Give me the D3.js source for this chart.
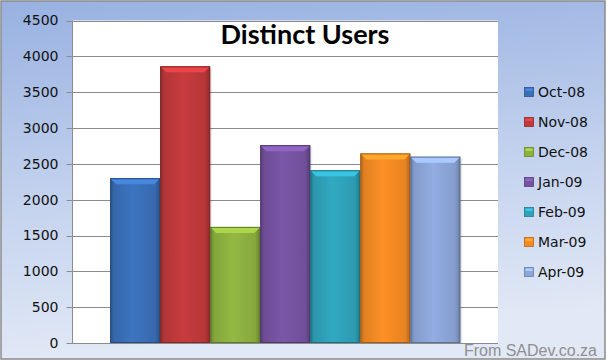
<!DOCTYPE html>
<html><head><meta charset="utf-8">
<script src="https://cdn.jsdelivr.net/npm/d3@7"></script>
<style>html,body{margin:0;padding:0;background:#fff;}svg{display:block;}</style>
</head><body>
<script>
const months = ["Oct-08","Nov-08","Dec-08","Jan-09","Feb-09","Mar-09","Apr-09"];
const users = [2300, 3860, 1620, 2760, 2410, 2645, 2600];
const colors = ["#3a6fb8","#c0393b","#8db13f","#7653a1","#2fa2ba","#f38a24","#8ca6d9"];
const yTicks = [0,500,1000,1500,2000,2500,3000,3500,4000,4500];
const titleText = "Distinct Users";
const credit = "From SADev.co.za";

const W = 607, H = 361;
const plot = {left: 72.5, right: 498, top: 20.5, bottom: 343};

const svg = d3.select("body").append("svg").attr("width", W).attr("height", H);
const defs = svg.append("defs");

const bg = defs.append("linearGradient").attr("id","bg").attr("x1",0).attr("y1",0).attr("x2",0.15).attr("y2",1);
bg.append("stop").attr("offset",0).attr("stop-color","#98b1e1");
bg.append("stop").attr("offset",0.55).attr("stop-color","#c3d2ee");
bg.append("stop").attr("offset",1).attr("stop-color","#e2e9f6");

svg.append("rect").attr("x",1).attr("y",1).attr("width",W-3).attr("height",H-3)
  .attr("fill","url(#bg)").attr("stroke","#8a8a8a").attr("stroke-width",1.5);

svg.append("rect").attr("x",plot.left).attr("y",plot.top)
  .attr("width",plot.right-plot.left).attr("height",plot.bottom-plot.top).attr("fill","#fff");

const y = d3.scaleLinear().domain([0,4500]).range([plot.bottom, plot.top]);
const outer = d3.scaleBand().domain(["all"]).range([plot.left, plot.right]).paddingInner(0.097).paddingOuter(0.097);
const x = d3.scaleBand().domain(months).range([outer("all"), outer("all")+outer.bandwidth()]).padding(0);

// gridlines
svg.append("g").selectAll("line").data(yTicks).join("line")
  .attr("x1",plot.left-6).attr("x2",plot.right)
  .attr("y1",d=>Math.round(y(d))+0.5).attr("y2",d=>Math.round(y(d))+0.5)
  .attr("stroke","#8c8c8c").attr("stroke-width",1);
svg.append("line").attr("x1",plot.left).attr("x2",plot.left).attr("y1",plot.top).attr("y2",plot.bottom)
  .attr("stroke","#8c8c8c");

// axis labels
const yAxis = d3.axisLeft(y).tickValues(yTicks).tickSize(0).tickPadding(0).tickFormat(d3.format("d"));
const ag = svg.append("g").attr("transform",`translate(${plot.left-14},0)`).call(yAxis);
ag.select(".domain").remove();
ag.selectAll("text").attr("font-family","'DejaVu Sans', sans-serif").attr("font-size",14).attr("fill","#111");

// bars
months.forEach((m,i)=>{
  const c = d3.color(colors[i]);
  const g = defs.append("linearGradient").attr("id","bar"+i).attr("x1",0).attr("x2",1).attr("y1",0).attr("y2",0);
  [[0,c.darker(0.9)],[0.08,c.darker(0.2)],[0.45,c.brighter(0.12)],[0.9,c.darker(0.15)],[1,c.darker(0.9)]]
    .forEach(([o,col])=>g.append("stop").attr("offset",o).attr("stop-color",col.formatHex()));
});
const bars = svg.append("g");
months.forEach((m,i)=>{
  const x0 = x(m), w = x.bandwidth(), top = y(users[i]), bot = y(0);
  const c = d3.color(colors[i]);
  const b = 6;
  bars.append("rect").attr("x",x0+2).attr("y",top+2).attr("width",w).attr("height",bot-top-2)
    .attr("fill","#000").attr("opacity",0.08);
  bars.append("rect").attr("x",x0).attr("y",top).attr("width",w).attr("height",bot-top)
    .attr("fill",`url(#bar${i})`);
  bars.append("polygon")
    .attr("points",`${x0},${top} ${x0+w},${top} ${x0+w-b},${top+b} ${x0+b},${top+b}`)
    .attr("fill",c.brighter(0.55).formatHex());
  bars.append("rect").attr("x",x0+0.5).attr("y",top+0.5).attr("width",w-1).attr("height",bot-top-1)
    .attr("fill","none").attr("stroke",c.darker(1.1).formatHex()).attr("stroke-width",1);
});

// title
svg.append("text").attr("x",305).attr("y",44).attr("text-anchor","middle")
  .attr("font-family","Lato, 'Open Sans', sans-serif").attr("font-weight","bold").attr("font-size",27)
  .attr("fill","#000").text(titleText);

// legend
const leg = svg.append("g");
months.forEach((m,i)=>{
  const cy = 92 + i*30;
  const c = d3.color(colors[i]);
  leg.append("rect").attr("x",524.5).attr("y",cy-4.5).attr("width",9).attr("height",9)
    .attr("fill",colors[i]).attr("stroke",c.darker(0.8).formatHex()).attr("stroke-width",0.8);
  leg.append("rect").attr("x",525.5).attr("y",cy-3.5).attr("width",7).attr("height",2.5)
    .attr("fill",c.brighter(0.6).formatHex());
  leg.append("text").attr("x",538).attr("y",cy).attr("dy","0.36em")
    .attr("font-family","'DejaVu Sans', sans-serif").attr("font-size",14).attr("fill","#111").text(m);
});

// credit
svg.append("text").attr("x",597).attr("y",356).attr("text-anchor","end")
  .attr("font-family","'Liberation Sans', Arial, sans-serif").attr("font-size",16)
  .attr("fill","#8f8f8f").text(credit);
</script>
</body></html>
